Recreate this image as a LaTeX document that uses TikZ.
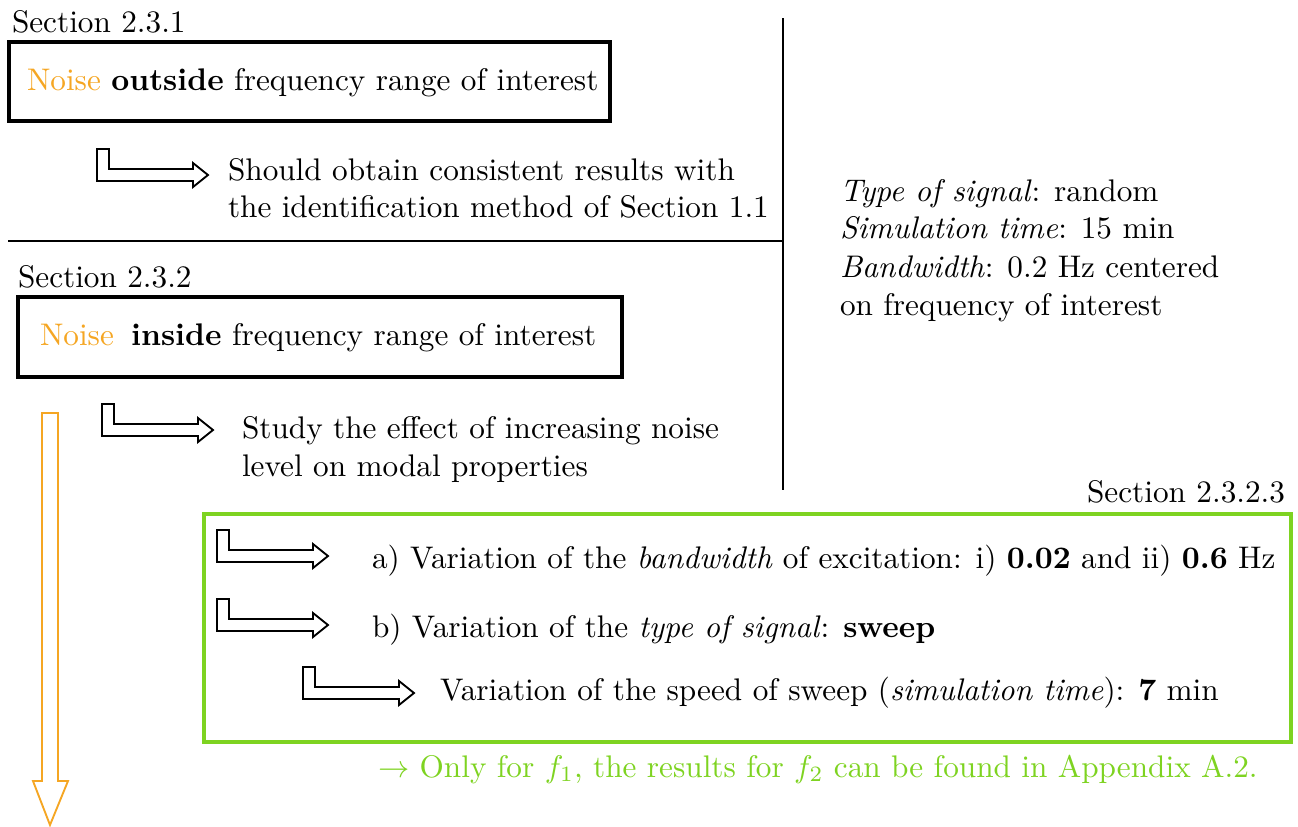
\documentclass[tikz,border=0pt]{standalone}
\usepackage{xcolor}
\definecolor{noiseorange}{HTML}{F5A623}
\definecolor{boxgreen}{HTML}{7ED321}
\begin{document}
\begin{tikzpicture}[x=0.32pt,y=-0.32pt,
  txt/.style={anchor=base west,inner sep=0pt,outer sep=0pt},
  txtr/.style={anchor=base east,inner sep=0pt,outer sep=0pt},
  mainbox/.style={draw=black,line width=1.25pt},
  greenbox/.style={draw=boxgreen,line width=1.25pt},
  rule/.style={draw=black,line width=0.6pt},
  larrow/.pic={\draw[line width=0.6pt,line join=miter] (0,0) -- (12,0) -- (12,20) -- (96,20) -- (96,14) -- (111,26) -- (96,38) -- (96,32) -- (0,32) -- cycle;},
  bigarrow/.style={draw=noiseorange,line width=0.6pt,line join=miter}]
\useasboundingbox (0,0) rectangle (1298,826);

% separators
\coordinate (hl) at (8,241);
\coordinate (hr) at (783,241);
\coordinate (vt) at (783,18);
\coordinate (vb) at (783,490);
\draw[rule] (hl) -- (hr);
\draw[rule] (vt) -- (vb);

% Section 2.3.1
\node[txt] (s231) at (12,32) {Section 2.3.1};
\draw[mainbox] (9,42) rectangle (610,121);
\node[txt] (n1) at (27,90) {\textcolor{noiseorange}{Noise} \textbf{outside} frequency range of interest};
\pic at (97,149) {larrow};
\node[txt] (r1a) at (228,180) {Should obtain consistent results with};
\node[txt] (r1b) at (228,217) {the identification method of Section 1.1};

% Section 2.3.2
\node[txt] (s232) at (18,287) {Section 2.3.2};
\draw[mainbox] (18,297) rectangle (622,377);
\node[txt] (n2) at (40,345) {\textcolor{noiseorange}{Noise}\hspace{5.5pt}\textbf{inside} frequency range of interest};
\pic at (102,404) {larrow};
\node[txt] (r2a) at (242,438) {Study the effect of increasing noise};
\node[txt] (r2b) at (242,476) {level on modal properties};

% right parameters
\node[txt] (p1) at (840,201) {\emph{Type of signal}: random};
\node[txt] (p2) at (840,238) {\emph{Simulation time}: 15 min};
\node[txt] (p3) at (840,277) {\emph{Bandwidth}: 0.2 Hz centered};
\node[txt] (p4) at (840,315) {on frequency of interest};

% orange arrow
\draw[bigarrow] (42,413) -- (58,413) -- (58,781) -- (68,781) -- (50,825) -- (33,781) -- (42,781) -- cycle;

% Section 2.3.2.3
\node[txtr] (s2323) at (1285,502) {Section 2.3.2.3};
\draw[greenbox] (204,514) rectangle (1291,742);
\pic at (217,530) {larrow};
\node[txt] (va) at (372,568) {a) Variation of the \emph{bandwidth} of excitation: i) \textbf{0.02} and ii) \textbf{0.6} Hz};
\pic at (217,599) {larrow};
\node[txt] (vb2) at (372,637) {b) Variation of the \emph{type of signal}: \textbf{sweep}};
\pic at (303,667) {larrow};
\node[txt] (vc) at (440,700) {Variation of the speed of sweep (\emph{simulation time}): \textbf{7} min};
\node[txt,text=boxgreen] (note) at (378,777) {$\rightarrow$ Only for $f_1$, the results for $f_2$ can be found in Appendix A.2.};
\end{tikzpicture}
\end{document}
